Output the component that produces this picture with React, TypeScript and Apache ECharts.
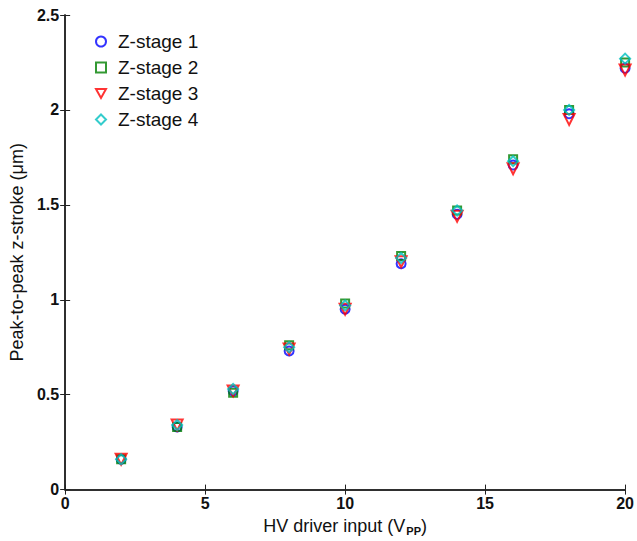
import React, { useEffect, useRef } from "react";
import * as echarts from "echarts";

const xValues = [2, 4, 6, 8, 10, 12, 14, 16, 18, 20];
const zStage1 = [0.16, 0.33, 0.52, 0.73, 0.95, 1.19, 1.45, 1.71, 1.98, 2.22];
const zStage2 = [0.16, 0.33, 0.51, 0.76, 0.98, 1.23, 1.47, 1.74, 2.0, 2.25];
const zStage3 = [0.16, 0.34, 0.52, 0.74, 0.95, 1.2, 1.44, 1.69, 1.95, 2.21];
const zStage4 = [0.16, 0.34, 0.53, 0.75, 0.97, 1.22, 1.47, 1.73, 2.0, 2.27];
const seriesNames = ["Z-stage 1", "Z-stage 2", "Z-stage 3", "Z-stage 4"];
const seriesColors = ["#0000ff", "#008000", "#ff0000", "#00bfbf"];
const xTicks = [0, 5, 10, 15, 20];
const yTicks = [0, 0.5, 1, 1.5, 2, 2.5];

export default function App() {
  const ref = useRef<HTMLDivElement>(null);
  useEffect(() => {
    if (!ref.current) return;
    const chart = echarts.init(ref.current, null, { renderer: "svg" });
    const all = [zStage1, zStage2, zStage3, zStage4];
    const symbols = ["circle", "rect", "triangle", "diamond"];
    const sizes = [9, 8, 11, 10];
    const rotates = [0, 0, 180, 0];
    const legendIcons = [
      "circle",
      "rect",
      "path://M0,0 L10,0 L5,9 Z",
      "diamond",
    ];
    const axisLine = { show: true, lineStyle: { color: "#222", width: 1.5 } };
    const font = "Liberation Sans, Arial, sans-serif";
    chart.setOption({
      animation: false,
      backgroundColor: "#fff",
      grid: { left: 64, right: 11, top: 15, bottom: 51 },
      legend: {
        orient: "vertical",
        left: 90,
        top: 27,
        itemGap: 7,
        itemWidth: 10,
        itemHeight: 10,
        textStyle: { fontSize: 19, fontFamily: font, color: "#111", padding: [0, 0, 0, 7] },
        data: seriesNames.map((n, i) => ({
          name: n,
          icon: legendIcons[i],
          itemStyle: { color: "rgba(255,255,255,0)", borderColor: seriesColors[i], borderWidth: 2 },
        })),
      },
      xAxis: [
        {
          type: "value",
          min: 0,
          max: 20,
          interval: 5,
          axisLine,
          axisTick: { inside: true, length: 5, lineStyle: { color: "#222" } },
          splitLine: { show: false },
          axisLabel: {
            fontSize: 16,
            fontWeight: "bold",
            fontFamily: font,
            color: "#111",
            margin: 6,
            formatter: (v: number) => (xTicks.includes(v) ? String(v) : ""),
          },
          name: "{a|HV driver input (V}{s|PP}{a|)}",
          nameLocation: "middle",
          nameGap: 25,
          nameTextStyle: {
            rich: {
              a: { fontSize: 18, fontFamily: font, color: "#111" },
              s: { fontSize: 11, fontFamily: font, color: "#111", fontWeight: "bold", padding: [10, 0, 0, 1] },
            },
          },
        },
        {
          type: "value",
          position: "top",
          min: 0,
          max: 20,
          interval: 5,
          axisLine,
          axisTick: { inside: true, length: 5, lineStyle: { color: "#222" } },
          axisLabel: { show: false },
          splitLine: { show: false },
        },
      ],
      yAxis: [
        {
          type: "value",
          min: 0,
          max: 2.5,
          interval: 0.5,
          axisLine,
          axisTick: { inside: true, length: 5, lineStyle: { color: "#222" } },
          splitLine: { show: false },
          axisLabel: {
            fontSize: 16,
            fontWeight: "bold",
            fontFamily: font,
            color: "#111",
            margin: 6,
            formatter: (v: number) => (yTicks.includes(v) ? String(v) : ""),
          },
          name: "Peak-to-peak z-stroke (\u03bcm)",
          nameLocation: "middle",
          nameGap: 38,
          nameTextStyle: { fontSize: 18, fontFamily: font, color: "#111" },
        },
        {
          type: "value",
          position: "right",
          min: 0,
          max: 2.5,
          interval: 0.5,
          axisLine,
          axisTick: { inside: true, length: 5, lineStyle: { color: "#222" } },
          axisLabel: { show: false },
          splitLine: { show: false },
        },
      ],
      series: all.map((vals, i) => ({
        name: seriesNames[i],
        type: "scatter",
        symbol: symbols[i],
        symbolSize: sizes[i],
        symbolRotate: rotates[i],
        itemStyle: {
          color: "rgba(255,255,255,0)",
          borderColor: seriesColors[i],
          borderWidth: 2,
        },
        data: xValues.map((x, j) => [x, vals[j]]),
      })),
    });
    return () => chart.dispose();
  }, []);
  return (
    <div
      ref={ref}
      style={{ position: "absolute", left: 0, top: 0, width: 637, height: 541 }}
    />
  );
}
